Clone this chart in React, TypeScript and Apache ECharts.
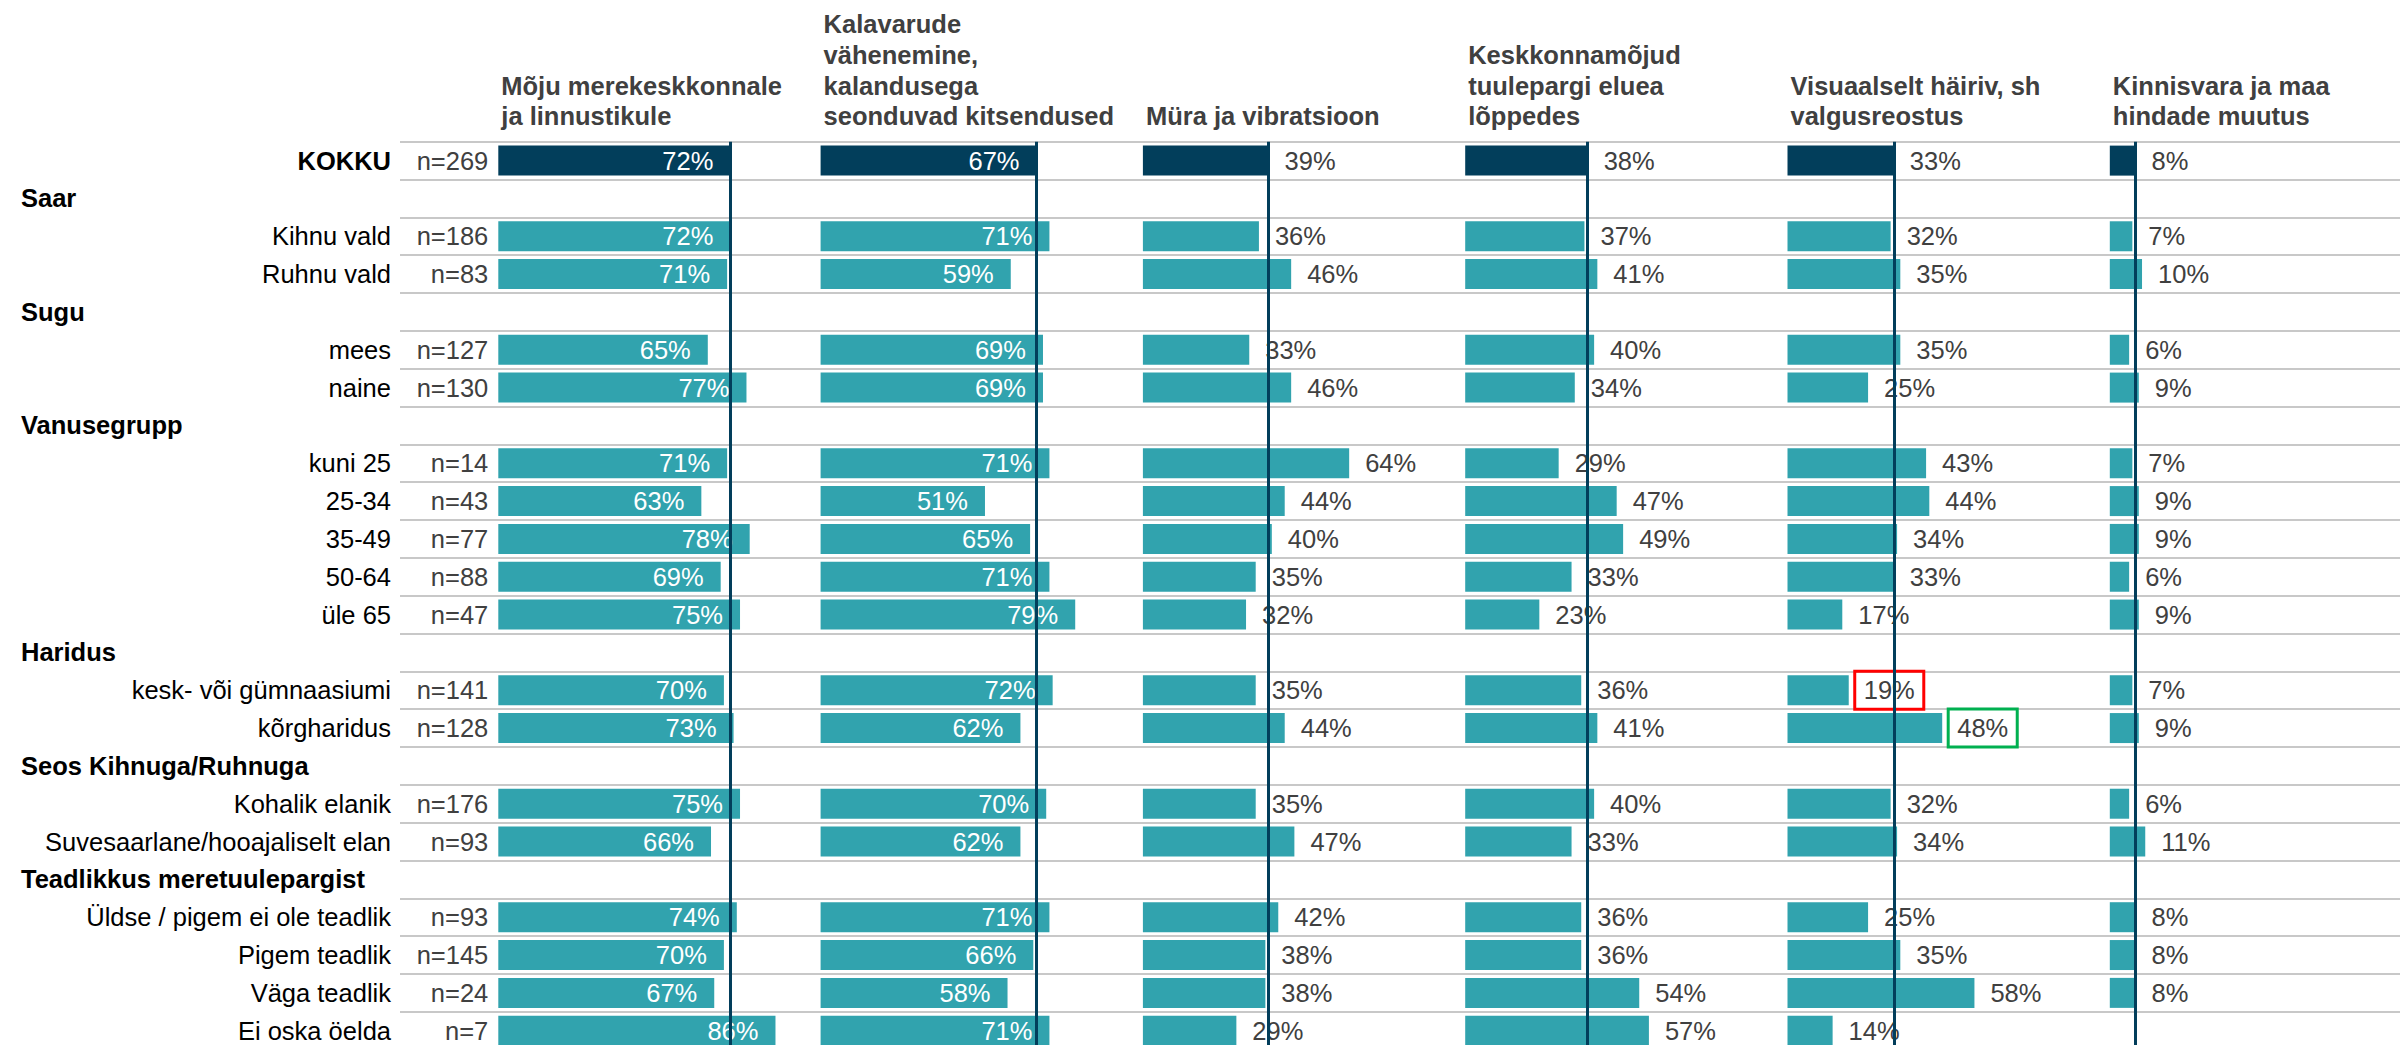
import React, { useEffect, useRef } from "react";
import * as echarts from "echarts";

// ---------- data ----------
const groupTitles = ["", "Saar", "Sugu", "Vanusegrupp", "Haridus", "Seos Kihnuga/Ruhnuga", "Teadlikkus meretuulepargist"];
const groupRows = [
  ["KOKKU"],
  ["Kihnu vald", "Ruhnu vald"],
  ["mees", "naine"],
  ["kuni 25", "25-34", "35-49", "50-64", "üle 65"],
  ["kesk- või gümnaasiumi", "kõrgharidus"],
  ["Kohalik elanik", "Suvesaarlane/hooajaliselt elan"],
  ["Üldse / pigem ei ole teadlik", "Pigem teadlik", "Väga teadlik", "Ei oska öelda"],
];
const nValues = [269, 186, 83, 127, 130, 14, 43, 77, 88, 47, 141, 128, 176, 93, 93, 145, 24, 7];

const panelTitles = [
  "Mõju merekeskkonnale\nja linnustikule",
  "Kalavarude\nvähenemine,\nkalandusega\nseonduvad kitsendused",
  "Müra ja vibratsioon",
  "Keskkonnamõjud\ntuulepargi eluea\nlõppedes",
  "Visuaalselt häiriv, sh\nvalgusreostus",
  "Kinnisvara ja maa\nhindade muutus",
];
const mojuMerekeskkonnale = [72, 72, 71, 65, 77, 71, 63, 78, 69, 75, 70, 73, 75, 66, 74, 70, 67, 86];
const kalavarud = [67, 71, 59, 69, 69, 71, 51, 65, 71, 79, 72, 62, 70, 62, 71, 66, 58, 71];
const muraVibratsioon = [39, 36, 46, 33, 46, 64, 44, 40, 35, 32, 35, 44, 35, 47, 42, 38, 38, 29];
const eluigaLoppedes = [38, 37, 41, 40, 34, 29, 47, 49, 33, 23, 36, 41, 40, 33, 36, 36, 54, 57];
const visuaalneHairiv = [33, 32, 35, 35, 25, 43, 44, 34, 33, 17, 19, 48, 32, 34, 25, 35, 58, 14];
const kinnisvaraHinnad = [8, 7, 10, 6, 9, 7, 9, 9, 6, 9, 7, 9, 6, 11, 8, 8, 8, null];
const panelValues = [mojuMerekeskkonnale, kalavarud, muraVibratsioon, eluigaLoppedes, visuaalneHairiv, kinnisvaraHinnad];

// significance boxes (panel index, row label, colour)
const highlights = [
  { panel: 4, row: "kesk- või gümnaasiumi", color: "#FF0000" },
  { panel: 4, row: "kõrgharidus", color: "#00B050" },
];

// ---------- styles ----------
const NAVY = "#023E5B";
const TEAL = "#31A3AE";
const FONT = "'Liberation Sans', Arial, Helvetica, sans-serif";
const FS = 25.5;
const W = 2400;
const H = 1045;
const ROW_H = 37.83;
const TOP = 141.7;
const PANEL_LEFT = 498.3;
const PANEL_W = 322.3;

type Cat = { name: string; kind: "total" | "header" | "row"; idx: number };

function buildCats(): Cat[] {
  const cats: Cat[] = [];
  let k = 0;
  groupTitles.forEach((t, g) => {
    if (t) cats.push({ name: t, kind: "header", idx: -1 });
    groupRows[g].forEach((r) => {
      cats.push({ name: r, kind: g === 0 ? "total" : "row", idx: k });
      k++;
    });
  });
  return cats;
}

export default function App() {
  const ref = useRef<HTMLDivElement>(null);

  useEffect(() => {
    document.body.style.margin = "0";
    if (!ref.current) return;
    const chart = echarts.init(ref.current, undefined, { renderer: "svg" });
    const cats = buildCats();
    const names = cats.map((c) => c.name);
    const gridH = cats.length * ROW_H;

    const grids: any[] = [
      { left: 400, top: TOP, width: W - 400, height: gridH, outerBoundsMode: "none", containLabel: false },
    ];
    const xAxes: any[] = [{ gridIndex: 0, type: "value", min: 0, max: 1, show: false }];
    const yAxes: any[] = [
      {
        gridIndex: 0,
        position: "left",
        type: "category",
        data: names,
        inverse: true,
        axisLine: { show: false },
        axisTick: { show: false },
        splitLine: { show: true, lineStyle: { color: "#C8C8C8", width: 2 } },
        axisLabel: {
          interval: 0,
          margin: 9,
          fontFamily: FONT,
          fontSize: FS,
          color: "#000",
          formatter: (v: string, i: number) => {
            const c = cats[i];
            if (c.kind === "header") return "";
            if (c.kind === "total") return "{b|" + v + "}";
            return v;
          },
          rich: { b: { fontFamily: FONT, fontSize: FS, fontWeight: "bold", color: "#000" } },
        },
      },
      {
        gridIndex: 0,
        position: "left",
        offset: 0,
        type: "category",
        data: names,
        inverse: true,
        axisLine: { show: false },
        axisTick: { show: false },
        splitLine: { show: false },
        axisLabel: {
          interval: 0,
          margin: 379,
          align: "left",
          fontFamily: FONT,
          fontSize: FS,
          fontWeight: "bold",
          color: "#000",
          formatter: (v: string, i: number) => (cats[i].kind === "header" ? v : ""),
        },
      },
    ];
    const series: any[] = [];
    const titles: any[] = [];

    panelValues.forEach((vals, p) => {
      const left = PANEL_LEFT + p * PANEL_W;
      grids.push({ left, top: TOP, width: PANEL_W, height: gridH, outerBoundsMode: "none", containLabel: false });
      xAxes.push({ gridIndex: p + 1, type: "value", min: 0, max: 100, show: false });
      yAxes.push({
        gridIndex: p + 1,
        position: "left",
        type: "category",
        data: names,
        inverse: true,
        show: p === 0,
        axisLine: { show: false },
        axisTick: { show: false },
        splitLine: { show: false },
        axisLabel: {
          interval: 0,
          margin: 10,
          fontFamily: FONT,
          fontSize: FS,
          color: "#404040",
          formatter: (_v: string, i: number) => (cats[i].kind === "header" ? "" : "n=" + nValues[cats[i].idx]),
        },
      });
      const inside = p < 2;
      const data = cats.map((c) => {
        if (c.kind === "header") return "-";
        const v = vals[c.idx];
        if (v === null || v === undefined) return "-";
        const item: any = { value: v };
        if (c.kind === "total") item.itemStyle = { color: NAVY };
        const hl = highlights.find((h) => h.panel === p && h.row === c.name);
        if (hl) {
          item.label = {
            borderColor: hl.color,
            borderWidth: 3,
            padding: [4, 9],
            distance: 6,
          };
        }
        return item;
      });
      series.push({
        type: "bar",
        xAxisIndex: p + 1,
        yAxisIndex: p + 2,
        data,
        barWidth: 30,
        itemStyle: { color: TEAL },
        silent: true,
        label: {
          show: true,
          position: inside ? "insideRight" : "right",
          distance: inside ? 17 : 16,
          formatter: "{c}%",
          fontFamily: FONT,
          fontSize: FS,
          lineHeight: 30,
          color: inside ? "#FFFFFF" : "#404040",
        },
        markLine: {
          silent: true,
          symbol: ["none", "none"],
          label: { show: false },
          lineStyle: { color: NAVY, width: 3, type: "solid" },
          data: [{ xAxis: vals[0] }],
        },
      });
      titles.push({
        text: panelTitles[p],
        left: left + 3,
        bottom: H - 131.6,
        padding: 0,
        textStyle: {
          fontFamily: FONT,
          fontSize: FS,
          fontWeight: "bold",
          color: "#404040",
          lineHeight: 30.6,
        },
      });
    });

    chart.setOption({
      animation: false,
      backgroundColor: "#FFFFFF",
      title: titles,
      grid: grids,
      xAxis: xAxes,
      yAxis: yAxes,
      series,
    });
    return () => chart.dispose();
  }, []);

  return <div ref={ref} style={{ width: W, height: H }} />;
}
